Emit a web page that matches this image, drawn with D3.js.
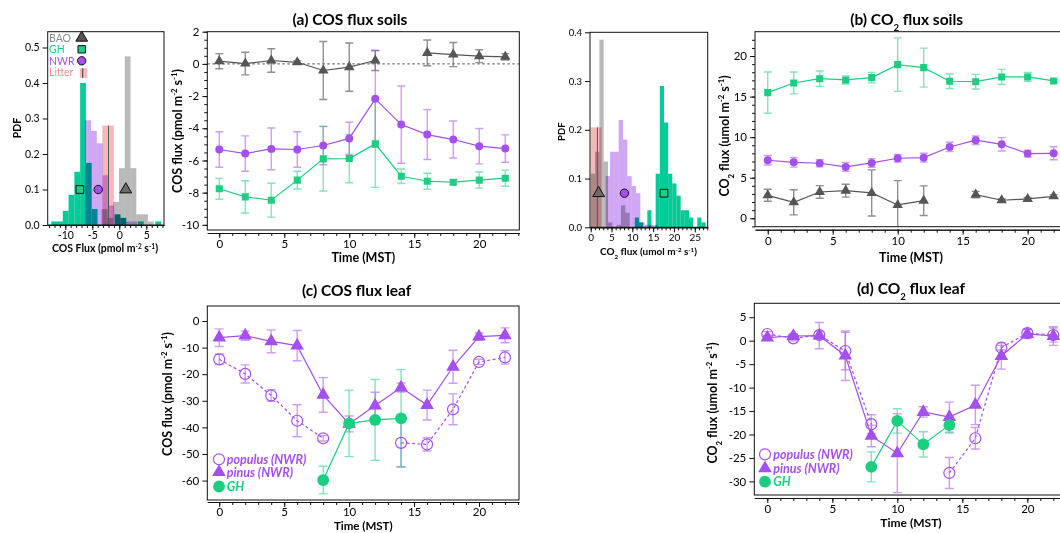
<!DOCTYPE html>
<html>
<head>
<meta charset="utf-8">
<script src="https://cdn.jsdelivr.net/npm/d3@7"></script>
<style>
  html, body { margin: 0; padding: 0; background: #fff; }
  svg { display: block; }
</style>
</head>
<body>
<svg id="chart" width="1060" height="533"></svg>
<script>
// ---------------- data ----------------
const hours = [0, 2, 4, 6, 8, 10, 12, 14, 16, 18, 20, 22];

// (a) soil COS flux (pmol m-2 s-1), mean and error
const cosSoilBAO    = [0.17, 0.02, 0.21, 0.10, -0.41, -0.20, 0.21, null, 0.68, 0.58, 0.48, 0.44];
const cosSoilBAOErr = [0.47, 0.70, 0.73, 0.10, 1.80, 1.50, 0.62, null, 0.80, 0.75, 0.40, 0.20];
const cosSoilNWR    = [-5.32, -5.57, -5.28, -5.32, -5.07, -4.63, -2.17, -3.77, -4.39, -4.70, -5.11, -5.26];
const cosSoilNWRErr = [1.10, 1.10, 1.30, 1.10, 1.20, 1.00, 3.00, 2.40, 1.55, 1.15, 1.10, 0.85];
const cosSoilGH     = [-7.76, -8.26, -8.47, -7.22, -5.90, -5.88, -4.97, -6.98, -7.29, -7.35, -7.22, -7.10];
const cosSoilGHErr  = [0.65, 1.00, 1.05, 0.55, 2.00, 1.50, 2.70, 0.45, 0.50, 0.15, 0.50, 0.50];

// (b) soil CO2 flux (umol m-2 s-1)
const co2SoilGH     = [15.49, 16.68, 17.21, 17.05, 17.34, 18.94, 18.57, 16.89, 16.84, 17.42, 17.42, 16.93];
const co2SoilGHErr  = [2.55, 1.35, 0.95, 0.50, 0.65, 3.30, 2.40, 0.90, 0.90, 0.93, 0.55, 0.20];
const co2SoilNWR    = [7.15, 6.90, 6.78, 6.33, 6.82, 7.40, 7.47, 8.79, 9.62, 9.12, 7.97, 8.01];
const co2SoilNWRErr = [0.58, 0.60, 0.45, 0.55, 0.53, 0.47, 0.55, 0.58, 0.52, 0.82, 0.42, 0.80];
const co2SoilBAO    = [2.83, 1.97, 3.24, 3.40, 3.12, 1.64, 2.17, null, 2.91, 2.22, 2.38, 2.71];
const co2SoilBAOErr = [0.74, 1.55, 0.78, 0.80, 2.84, 3.00, 1.82, null, 0.40, 0.20, 0.20, 0.20];

// (c) leaf COS flux (pmol m-2 s-1)
const cosLeafPinus      = [-6.27, -5.51, -7.64, -9.27, -27.8, -38.7, -31.8, -25.0, -31.6, -17.2, -5.89, -5.39];
const cosLeafPinusErr   = [3.3, 1.7, 4.3, 5.7, 6.5, 3.0, 5.0, 1.7, 5.6, 6.2, 1.4, 2.8];
const cosLeafPopulus    = [-14.4, -19.9, -28.0, -37.5, -44.1, null, null, -45.8, -46.4, -33.2, -15.4, -13.7];
const cosLeafPopulusErr = [2.0, 3.4, 2.2, 6.0, 1.0, null, null, 9.0, 2.5, 5.8, 1.0, 2.5];
const cosLeafGH         = [null, null, null, null, -59.8, -38.5, -37.2, -36.6, null, null, null, null];
const cosLeafGHErr      = [null, null, null, null, 5.2, 12.5, 15.2, 18.3, null, null, null, null];

// (d) leaf CO2 flux (umol m-2 s-1)
const co2LeafPinus      = [0.64, 1.0, 1.07, -3.2, -20.3, -24.0, -15.2, -16.3, -13.7, -3.26, 1.43, 1.0];
const co2LeafPinusErr   = [0.5, 0.5, 2.8, 5.3, 2.3, 8.4, 1.1, 3.2, 4.2, 2.8, 1.0, 2.0];
const co2LeafPopulus    = [1.43, 0.5, 1.2, -2.2, -17.8, null, null, -28.2, -20.8, -1.5, 1.6, 1.2];
const co2LeafPopulusErr = [0.5, 0.5, 0.8, 4.0, 2.0, null, null, 3.3, 2.3, 0.5, 0.8, 1.5];
const co2LeafGH         = [null, null, null, null, -26.9, -17.1, -22.1, -18.0, null, null, null, null];
const co2LeafGHErr      = [null, null, null, null, 3.2, 2.6, 2.7, 1.7, null, null, null, null];

// COS flux distributions (PDF per bin): first bin edge, bin width, bin values
const cosGhStart = -12.6,  cosGhWidth = 1.07;
const cosGhPdf   = [0.01, 0.01, 0.04, 0.085, 0.15, 0.40, 0.175, 0.045, 0, 0, 0, 0.03, 0.02, 0, 0, 0.01, 0, 0, 0.01];
const cosNwrStart = -6.3,  cosNwrWidth = 1.07;
const cosNwrPdf   = [0.295, 0.265, 0.23, 0.14, 0.055, 0.03, 0.02, 0.01, 0.01];
const cosBaoStart = -3.27, cosBaoWidth = 1.07;
const cosBaoPdf   = [0.045, 0.02, 0.065, 0.16, 0.475, 0.16, 0.03, 0.03, 0.01];
const cosLitterStart = -3.15, cosLitterWidth = 1.07;
const cosLitterPdf   = [0.28, 0.28];
const cosLitterMean  = -2.0;
const cosMeansBAO_NWR_GH = [1.2, -3.9, -7.3];
const cosMeanMarkerPdf = 0.1;

// CO2 flux distributions
const co2BaoStart = 0, co2BaoWidth = 1.04;
const co2BaoPdf   = [0.11, 0.155, 0.385, 0.135, 0.01, 0, 0.005, 0.045, 0.03];
const co2LitterStart = 0, co2LitterWidth = 1.3;
const co2LitterPdf   = [0.205, 0.205];
const co2LitterMean  = 1.6;
const co2NwrStart = 3.6, co2NwrWidth = 1.04;
const co2NwrPdf   = [0.105, 0.155, 0.155, 0.22, 0.18, 0.105, 0.085, 0.07, 0.01, 0.005, 0.005, 0.005];
const co2GhStart = 10.6, co2GhWidth = 1.0;
const co2GhPdf   = [0.02, 0.01, 0, 0.035, 0, 0.11, 0.29, 0.215, 0.11, 0.09, 0.065, 0.035, 0.035, 0.02, 0, 0.02, 0.01];
const co2MeansBAO_NWR_GH = [1.9, 8.1, 17.6];
const co2MeanMarkerPdf = 0.07;

// ---------------- styling ----------------
const FONT = "Lato, 'Open Sans', 'DejaVu Sans', sans-serif";
const PURPLE = "#a64ff0";
const GREEN = "#1bcf80";
const GRAY = "#555555";
const H_GREEN = "#00cc99";
const H_PURPLE = "#d2a6f6";
const H_GRAY = "#b9b9b9";
const H_PINK = "#f5b8b8";
const TICK_FS = 11.5, TITLE_FS = 15.5, AXIS_FS = 12.5;

const svg = d3.select("#chart").attr("font-family", FONT);
svg.append("rect").attr("width", 1060).attr("height", 533).attr("fill", "#fff");
const defs = svg.append("defs");

function panel(name, left, right, top, bottom, xDom, yDom) {
  const x = d3.scaleLinear().domain(xDom).range([left, right]);
  const y = d3.scaleLinear().domain(yDom).range([bottom, top]);
  const g = svg.append("g").attr("class", "panel-" + name);
  defs.append("clipPath").attr("id", "clip-" + name).append("rect")
    .attr("x", left).attr("y", top).attr("width", right - left).attr("height", bottom - top);
  const plot = g.append("g").attr("clip-path", `url(#clip-${name})`);
  return { name, x, y, g, plot, left, right, top, bottom };
}

function frame(P) {
  P.g.append("rect")
    .attr("x", P.left).attr("y", P.top)
    .attr("width", P.right - P.left).attr("height", P.bottom - P.top)
    .attr("fill", "none").attr("stroke", "#111").attr("stroke-width", 1);
}

function styleAxis(s, fs) {
  s.attr("font-family", FONT).attr("font-size", fs);
  s.selectAll("text").attr("fill", "#000");
  s.selectAll("line").attr("stroke", "#111");
  s.select(".domain").attr("stroke", "#111");
}

function yAxis(P, major, minor, fs, fmt) {
  if (minor) {
    P.g.append("g").attr("transform", `translate(${P.left},0)`)
      .call(d3.axisLeft(P.y).tickValues(minor).tickSize(3).tickFormat(""))
      .call(s => { s.select(".domain").remove(); s.selectAll("line").attr("stroke", "#111"); });
  }
  P.g.append("g").attr("transform", `translate(${P.left},0)`)
    .call(d3.axisLeft(P.y).tickValues(major).tickSize(5).tickPadding(3).tickFormat(fmt || (d => String(d))))
    .call(s => { styleAxis(s, fs); s.select(".domain").remove(); });
}

function xAxis(P, major, minor, off, fs, pad = 2) {
  const yy = P.bottom + off;
  P.g.append("g").attr("transform", `translate(0,${yy})`)
    .call(d3.axisBottom(P.x).tickValues(minor).tickSize(3).tickSizeOuter(0).tickFormat(""))
    .call(s => { s.selectAll("line").attr("stroke", "#111"); s.select(".domain").attr("stroke", "#111"); });
  P.g.append("g").attr("transform", `translate(0,${yy})`)
    .call(d3.axisBottom(P.x).tickValues(major).tickSize(5).tickSizeOuter(0).tickPadding(pad).tickFormat(d => String(d)))
    .call(s => styleAxis(s, fs));
}

function rich(textSel, parts) {
  parts.forEach(p => {
    const t = textSel.append("tspan").text(p[0]);
    if (p[1] === "sup") t.attr("baseline-shift", "super").attr("font-size", "62%");
    if (p[1] === "sub") t.attr("baseline-shift", "sub").attr("font-size", "62%");
  });
  return textSel;
}

function label(x, y, parts, fs, opts = {}) {
  const t = svg.append("text")
    .attr("text-anchor", opts.anchor || "middle")
    .attr("font-size", fs)
    .attr("font-weight", opts.weight || "bold")
    .attr("font-style", opts.style || "normal")
    .attr("fill", opts.fill || "#000");
  if (opts.rotate) t.attr("transform", `translate(${x},${y}) rotate(-90)`);
  else t.attr("x", x).attr("y", y);
  return rich(t, parts);
}

function pts(vals, errs) {
  return hours.map((h, i) => ({ h, v: vals[i], e: errs ? errs[i] : null }));
}

function errorBars(P, data, color, opacity, cap) {
  P.plot.append("g")
    .selectAll("path")
    .data(data.filter(d => d.v != null && d.e != null))
    .join("path")
    .attr("d", d => {
      const xx = P.x(d.h), y1 = P.y(d.v + d.e), y2 = P.y(d.v - d.e);
      return `M${xx},${y1}V${y2}M${xx - cap},${y1}H${xx + cap}M${xx - cap},${y2}H${xx + cap}`;
    })
    .attr("fill", "none").attr("stroke", color)
    .attr("stroke-opacity", opacity).attr("stroke-width", 1.4);
}

function seriesLine(P, data, color, dash) {
  P.plot.append("path").datum(data)
    .attr("d", d3.line().defined(d => d.v != null).x(d => P.x(d.h)).y(d => P.y(d.v)))
    .attr("fill", "none").attr("stroke", color).attr("stroke-width", 1.2)
    .attr("stroke-dasharray", dash || null);
}

function markers(P, data, type, size, fill, stroke, sw) {
  P.plot.append("g")
    .selectAll("path")
    .data(data.filter(d => d.v != null))
    .join("path")
    .attr("transform", d => `translate(${P.x(d.h)},${P.y(d.v)})`)
    .attr("d", d3.symbol(type, size))
    .attr("fill", fill).attr("stroke", stroke || "none").attr("stroke-width", sw || 0);
}

function hist(P, start, width, pdf, color) {
  P.plot.append("g")
    .selectAll("rect")
    .data(pdf.map((p, i) => ({ x0: start + i * width, x1: start + (i + 1) * width, p })))
    .join("rect")
    .attr("x", d => P.x(d.x0))
    .attr("width", d => P.x(d.x1) - P.x(d.x0))
    .attr("y", d => P.y(d.p))
    .attr("height", d => P.y(0) - P.y(d.p))
    .attr("fill", color)
    .style("mix-blend-mode", "multiply");
}

function histMeans(P, means, level) {
  const types = [d3.symbolTriangle, d3.symbolCircle, d3.symbolSquare];
  const fills = ["#6a6a6a", PURPLE, GREEN];
  const sizes = [60, 55, 60];
  P.plot.append("g").selectAll("path")
    .data(means.map((m, i) => ({ m, i })))
    .join("path")
    .attr("transform", d => `translate(${P.x(d.m)},${P.y(level)})`)
    .attr("d", d => d3.symbol(types[d.i], sizes[d.i])())
    .attr("fill", d => fills[d.i]).attr("stroke", "#111").attr("stroke-width", 1);
}

function litterMean(P, m, pdf) {
  P.plot.append("line")
    .attr("x1", P.x(m)).attr("x2", P.x(m))
    .attr("y1", P.y(0)).attr("y2", P.y(pdf))
    .attr("stroke", "#555").attr("stroke-width", 1);
}

const supUnits = (pre) => pre.concat([["-2", "sup"], [" s", ""], ["-1", "sup"], [")", ""]]);

// ---------------- COS flux histogram ----------------
const H1 = panel("h1", 47.7, 164, 31.7, 225, [-13.26, 8.28], [0, 0.5445]);
hist(H1, cosBaoStart, cosBaoWidth, cosBaoPdf, H_GRAY);
hist(H1, cosNwrStart, cosNwrWidth, cosNwrPdf, H_PURPLE);
hist(H1, cosLitterStart, cosLitterWidth, cosLitterPdf, H_PINK);
hist(H1, cosGhStart, cosGhWidth, cosGhPdf, H_GREEN);
litterMean(H1, cosLitterMean, cosLitterPdf[0]);
histMeans(H1, cosMeansBAO_NWR_GH, cosMeanMarkerPdf);
frame(H1);
yAxis(H1, [0, 0.1, 0.2, 0.3, 0.4, 0.5], null, 10.5, d3.format(".1f"));
xAxis(H1, [-10, -5, 0, 5], d3.range(-13, 9), 0, 10.5);
label(20.5, 128, [["PDF", ""]], 10.5, { rotate: true });
label(105, 252, supUnits([["COS Flux (pmol m", ""]]), 10.5);

// legend of the COS histogram
const legItems = [
  { name: "BAO", color: "#8c8c8c", sym: d3.symbolTriangle, fill: "#555", size: 60 },
  { name: "GH", color: GREEN, sym: d3.symbolSquare, fill: GREEN, size: 55 },
  { name: "NWR", color: PURPLE, sym: d3.symbolCircle, fill: PURPLE, size: 55 },
  { name: "Litter", color: "#f08c8c", sym: null }
];
const legG = svg.append("g");
legG.selectAll("text").data(legItems).join("text")
  .attr("x", 49).attr("y", (d, i) => 41.6 + i * 11.5)
  .attr("font-size", 10.5).attr("fill", d => d.color).text(d => d.name);
legG.selectAll("path").data(legItems.filter(d => d.sym)).join("path")
  .attr("transform", (d, i) => `translate(81.7,${37.8 + i * 11.5})`)
  .attr("d", d => d3.symbol(d.sym, d.size)())
  .attr("fill", d => d.fill).attr("stroke", "#111").attr("stroke-width", 1);
legG.append("rect").attr("x", 79.8).attr("y", 68.3).attr("width", 7.4).attr("height", 9.5).attr("fill", H_PINK);
legG.append("line").attr("x1", 82.6).attr("x2", 82.6).attr("y1", 68.3).attr("y2", 77.8).attr("stroke", "#555").attr("stroke-width", 1.2);

// ---------------- (a) COS flux soils ----------------
const A = panel("a", 207.3, 519.3, 31.7, 230, [-0.92, 23.08], [-10.32, 2.0]);
A.plot.append("line").attr("x1", A.left).attr("x2", A.right).attr("y1", A.y(0)).attr("y2", A.y(0))
  .attr("stroke", "#555").attr("stroke-dasharray", "2.5,2.5").attr("stroke-width", 1);
const aBAO = pts(cosSoilBAO, cosSoilBAOErr), aNWR = pts(cosSoilNWR, cosSoilNWRErr), aGH = pts(cosSoilGH, cosSoilGHErr);
errorBars(A, aBAO, "#6b6b6b", 0.75, 4);
errorBars(A, aNWR, PURPLE, 0.55, 4);
errorBars(A, aGH, GREEN, 0.55, 4);
seriesLine(A, aBAO, GRAY);
seriesLine(A, aNWR, PURPLE);
seriesLine(A, aGH, GREEN);
markers(A, aBAO, d3.symbolTriangle, 48, GRAY);
markers(A, aNWR, d3.symbolCircle, 50, PURPLE);
markers(A, aGH, d3.symbolSquare, 50, GREEN);
frame(A);
yAxis(A, [-10, -8, -6, -4, -2, 0, 2], d3.range(-10, 2.01, 0.5), TICK_FS);
xAxis(A, [0, 5, 10, 15, 20], d3.range(0, 24), 3, TICK_FS);
label(350, 25, [["(a) COS flux soils", ""]], TITLE_FS);
label(182, 131, supUnits([["COS flux (pmol m", ""]]), AXIS_FS, { rotate: true });
label(363.3, 262, [["Time (MST)", ""]], AXIS_FS);

// ---------------- CO2 flux histogram ----------------
const H2 = panel("h2", 590, 707.7, 32.3, 227.3, [-0.17, 28.1], [0, 0.4]);
hist(H2, co2BaoStart, co2BaoWidth, co2BaoPdf, H_GRAY);
hist(H2, co2NwrStart, co2NwrWidth, co2NwrPdf, H_PURPLE);
hist(H2, co2LitterStart, co2LitterWidth, co2LitterPdf, H_PINK);
hist(H2, co2GhStart, co2GhWidth, co2GhPdf, H_GREEN);
litterMean(H2, co2LitterMean, co2LitterPdf[0]);
histMeans(H2, co2MeansBAO_NWR_GH, co2MeanMarkerPdf);
frame(H2);
yAxis(H2, [0, 0.1, 0.2, 0.3, 0.4], null, 9.5, d3.format(".1f"));
xAxis(H2, [0, 5, 10, 15, 20, 25], d3.range(0, 29), 0, 10);
label(565, 131.7, [["PDF", ""]], 9.5, { rotate: true });
label(648.5, 255, supUnits([["CO", ""], ["2", "sub"], [" flux (umol m", ""]]), 10);

// ---------------- (b) CO2 flux soils ----------------
const B = panel("b", 755, 1067.7, 31.7, 226.7, [-0.98, 23.08], [-1.04, 23.0]);
const bGH = pts(co2SoilGH, co2SoilGHErr), bNWR = pts(co2SoilNWR, co2SoilNWRErr), bBAO = pts(co2SoilBAO, co2SoilBAOErr);
errorBars(B, bBAO, "#6b6b6b", 0.75, 4);
errorBars(B, bNWR, PURPLE, 0.55, 4);
errorBars(B, bGH, GREEN, 0.55, 4);
seriesLine(B, bBAO, GRAY);
seriesLine(B, bNWR, PURPLE);
seriesLine(B, bGH, GREEN);
markers(B, bBAO, d3.symbolTriangle, 48, GRAY);
markers(B, bNWR, d3.symbolCircle, 50, PURPLE);
markers(B, bGH, d3.symbolSquare, 50, GREEN);
frame(B);
yAxis(B, [0, 5, 10, 15, 20], d3.range(-1, 23), TICK_FS);
xAxis(B, [0, 5, 10, 15, 20], d3.range(0, 24), 3, TICK_FS);
label(906.7, 25, [["(b) CO", ""], ["2", "sub"], [" flux soils", ""]], TITLE_FS);
label(729, 136, supUnits([["CO", ""], ["2", "sub"], [" flux (umol m", ""]]), AXIS_FS, { rotate: true });
label(911, 262, [["Time (MST)", ""]], AXIS_FS);

// ---------------- leaf panels ----------------
function leafLegend(mx, tx, ys) {
  const g = svg.append("g");
  const items = [
    { t: "populus (NWR)", c: PURPLE, sym: d3.symbolCircle, size: 95, fill: "none", stroke: PURPLE },
    { t: "pinus (NWR)", c: PURPLE, sym: d3.symbolTriangle, size: 80, fill: PURPLE, stroke: "none" },
    { t: "GH", c: GREEN, sym: d3.symbolCircle, size: 110, fill: GREEN, stroke: "none" }
  ];
  g.selectAll("path").data(items).join("path")
    .attr("transform", (d, i) => `translate(${mx},${ys[i]})`)
    .attr("d", d => d3.symbol(d.sym, d.size)())
    .attr("fill", d => d.fill).attr("stroke", d => d.stroke).attr("stroke-width", 1.2);
  g.selectAll("text").data(items).join("text")
    .attr("x", tx).attr("y", (d, i) => ys[i] + 4.3)
    .attr("font-size", 12.5).attr("font-weight", "bold").attr("font-style", "italic")
    .attr("fill", d => d.c).text(d => d.t);
}

function leafPanel(P, pinus, pinusErr, populus, populusErr, gh, ghErr) {
  const pi = pts(pinus, pinusErr), po = pts(populus, populusErr), gg = pts(gh, ghErr);
  errorBars(P, pi, PURPLE, 0.55, 4.5);
  errorBars(P, po, PURPLE, 0.55, 4.5);
  errorBars(P, gg, GREEN, 0.55, 4.5);
  seriesLine(P, po, PURPLE, "3,2.5");
  seriesLine(P, pi, PURPLE);
  seriesLine(P, gg, GREEN);
  markers(P, po, d3.symbolCircle, 95, "none", PURPLE, 1.2);
  markers(P, pi, d3.symbolTriangle, 80, PURPLE);
  markers(P, gg, d3.symbolCircle, 110, GREEN);
  frame(P);
}

// (c) COS flux leaf
const C = panel("c", 207.3, 519, 306, 500, [-0.92, 23.08], [-67.3, 5.64]);
leafPanel(C, cosLeafPinus, cosLeafPinusErr, cosLeafPopulus, cosLeafPopulusErr, cosLeafGH, cosLeafGHErr);
yAxis(C, [-60, -50, -40, -30, -20, -10, 0], null, TICK_FS);
xAxis(C, [0, 5, 10, 15, 20], d3.range(0, 24), 2, TICK_FS, 1);
label(356.7, 296, [["(c) COS flux leaf", ""]], TITLE_FS);
label(172, 394, supUnits([["COS flux (pmol m", ""]]), AXIS_FS, { rotate: true });
label(363.3, 530.4, [["Time (MST)", ""]], 11.5);
leafLegend(219, 226.7, [459.3, 472.2, 486.5]);

// (d) CO2 flux leaf
const D = panel("d", 754.3, 1067, 303.3, 495, [-1.0, 23.05], [-32.9, 7.97]);
leafPanel(D, co2LeafPinus, co2LeafPinusErr, co2LeafPopulus, co2LeafPopulusErr, co2LeafGH, co2LeafGHErr);
yAxis(D, [-30, -25, -20, -15, -10, -5, 0, 5], null, TICK_FS);
xAxis(D, [0, 5, 10, 15, 20], d3.range(0, 24), 3, TICK_FS);
label(911, 293.5, [["(d) CO", ""], ["2", "sub"], [" flux leaf", ""]], TITLE_FS);
label(717, 403, supUnits([["CO", ""], ["2", "sub"], [" flux (umol m", ""]]), AXIS_FS, { rotate: true });
label(911, 527, [["Time (MST)", ""]], 12);
leafLegend(765, 773.3, [454.3, 468.3, 481.7]);
</script>
</body>
</html>
